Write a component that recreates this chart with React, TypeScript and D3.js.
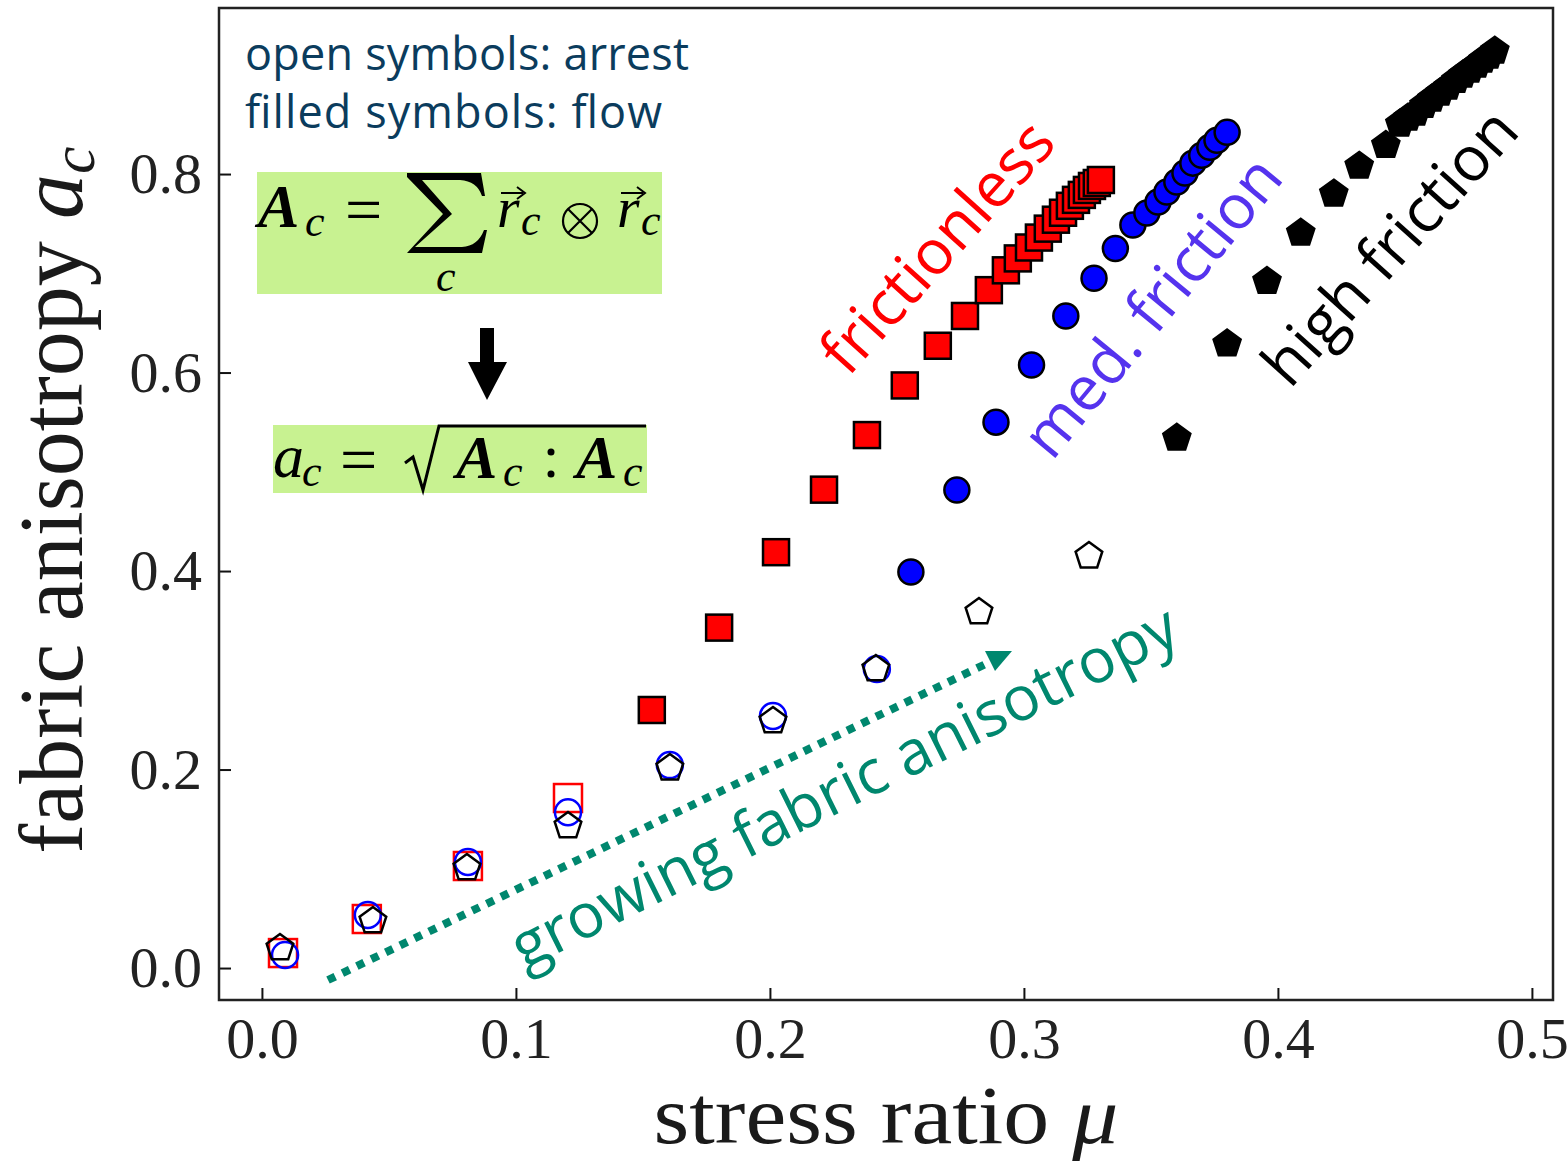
import { useEffect, useRef } from 'react';
import * as d3 from 'd3';

// arrest states (open symbols)
const muArrestFless = [0.0083, 0.0413, 0.0811, 0.1205];
const acArrestFless = [0.0151, 0.0494, 0.1028, 0.1713];
const muArrestMed = [0.0091, 0.0417, 0.0811, 0.1205, 0.1606, 0.2012, 0.2421];
const acArrestMed = [0.0131, 0.0534, 0.1068, 0.157, 0.2045, 0.2539, 0.3013];
const muArrestHigh = [0.0071, 0.0437, 0.0807, 0.1205, 0.1606, 0.2012, 0.2417, 0.2823, 0.3256];
const acArrestHigh = [0.0212, 0.0484, 0.1018, 0.1441, 0.2025, 0.2499, 0.3023, 0.3597, 0.4161];

// flowing states (filled symbols)
const muFlowFless = [0.1535, 0.18, 0.2024, 0.2213, 0.2382, 0.2531, 0.2661, 0.2768, 0.2862, 0.2929, 0.2976, 0.302,
  0.3059, 0.3094, 0.3126, 0.3154, 0.3181, 0.3205, 0.3228, 0.3248, 0.3268, 0.3287, 0.3303];
const acFlowFless = [0.26, 0.343, 0.419, 0.482, 0.537, 0.587, 0.627, 0.657, 0.683, 0.703, 0.715, 0.726,
  0.736, 0.745, 0.754, 0.761, 0.768, 0.774, 0.779, 0.784, 0.788, 0.791, 0.794];
const muFlowMed = [0.2555, 0.2736, 0.289, 0.303, 0.3165, 0.3276, 0.336, 0.3429, 0.3484, 0.3528, 0.3563, 0.3602,
  0.3634, 0.3665, 0.37, 0.3732, 0.376, 0.38];
const acFlowMed = [0.399, 0.4816, 0.55, 0.6076, 0.657, 0.695, 0.725, 0.7486, 0.7607, 0.7718, 0.7819, 0.7919,
  0.801, 0.811, 0.819, 0.827, 0.834, 0.842];
const muFlowHigh = [0.3602, 0.38, 0.3957, 0.409, 0.422, 0.432, 0.4425, 0.448, 0.4512, 0.4543, 0.4575, 0.4606,
  0.4638, 0.4669, 0.4701, 0.4728, 0.4756, 0.4783, 0.4807, 0.4831, 0.4854];
const acFlowHigh = [0.535, 0.63, 0.693, 0.7416, 0.781, 0.809, 0.83, 0.8514, 0.8574, 0.8625, 0.8703, 0.8766,
  0.8826, 0.8887, 0.8955, 0.9007, 0.9058, 0.9108, 0.9159, 0.9199, 0.925];

const xTicks = [0, 0.1, 0.2, 0.3, 0.4, 0.5];
const yTicks = [0, 0.2, 0.4, 0.6, 0.8];

const serif = '"Liberation Serif", "Times New Roman", serif';
const sans = '"Open Sans", "Noto Sans", sans-serif';

const pentagon = (r: number) => {
  const pts = d3.range(5).map(i => {
    const a = -Math.PI / 2 + (i * 2 * Math.PI) / 5;
    return [r * Math.cos(a), r * Math.sin(a)] as [number, number];
  });
  return d3.line()(pts) + 'Z';
};

const App = () => {
  const svgRef = useRef<SVGSVGElement>(null);

  useEffect(() => {
    const w = 1568;
    const h = 1163;
    const svg = d3.select(svgRef.current);
    svg.selectAll('*').remove();
    svg.attr('width', w).attr('height', h);

    const x = d3.scaleLinear().domain([-0.0169, 0.5083]).range([219, 1553]);
    const y = d3.scaleLinear().domain([-0.0322, 0.9673]).range([1000, 8]);

    // axes (inward ticks)
    const xAxis = svg.append('g')
      .attr('transform', 'translate(0,1000)')
      .call(d3.axisBottom(x).tickValues(xTicks).tickSize(-12).tickSizeOuter(0).tickPadding(17).tickFormat(d3.format('.1f')));
    const yAxis = svg.append('g')
      .attr('transform', 'translate(219,0)')
      .call(d3.axisLeft(y).tickValues(yTicks).tickSize(-12).tickSizeOuter(0).tickPadding(17).tickFormat(d3.format('.1f')));
    [xAxis, yAxis].forEach(g => {
      g.select('.domain').remove();
      g.selectAll('line').attr('stroke', '#111').attr('stroke-width', 2);
      g.selectAll('text').attr('font-family', serif).attr('font-size', 58).attr('fill', '#222');
    });

    svg.append('rect')
      .attr('x', 219).attr('y', 8).attr('width', 1553 - 219).attr('height', 1000 - 8)
      .attr('fill', 'none').attr('stroke', '#222').attr('stroke-width', 2.5);

    // axis labels
    const xl = svg.append('text')
      .attr('x', 886).attr('y', 1143)
      .attr('text-anchor', 'middle')
      .attr('font-family', serif).attr('font-size', 83).attr('fill', '#1a1a1a')
      .attr('textLength', 465).attr('lengthAdjust', 'spacingAndGlyphs');
    xl.append('tspan').text('stress ratio ');
    xl.append('tspan').attr('font-style', 'italic').text('μ');

    const yl = svg.append('text')
      .attr('transform', 'translate(82,500) rotate(-90)')
      .attr('text-anchor', 'middle')
      .attr('font-family', serif).attr('font-size', 90).attr('fill', '#1a1a1a');
    yl.append('tspan').text('fabric anisotropy ');
    yl.append('tspan').attr('font-style', 'italic').text('a');
    yl.append('tspan').attr('font-style', 'italic').attr('font-size', 62).attr('dy', 12).text('c');

    // top-left note
    const note = svg.append('g').attr('font-family', sans).attr('font-size', 45).attr('fill', '#0b3c5d');
    note.append('text').attr('x', 245).attr('y', 70).attr('textLength', 444).attr('lengthAdjust', 'spacing').text('open symbols: arrest');
    note.append('text').attr('x', 245).attr('y', 128).attr('textLength', 417).attr('lengthAdjust', 'spacing').text('filled symbols: flow');

    // formula boxes
    svg.append('rect').attr('x', 257).attr('y', 172).attr('width', 405).attr('height', 122).attr('fill', '#c8f291');
    svg.append('rect').attr('x', 273).attr('y', 425).attr('width', 374).attr('height', 68).attr('fill', '#c8f291');

    const f = svg.append('g').attr('font-family', serif).attr('fill', '#000');
    const boldA = (px: number, py: number) => {
      f.append('text').attr('x', px).attr('y', py).attr('font-size', 62).attr('font-weight', 'bold').attr('font-style', 'italic').text('A');
    };
    const sub = (px: number, py: number) => {
      f.append('text').attr('x', px).attr('y', py).attr('font-size', 44).attr('font-style', 'italic').text('c');
    };
    const vecR = (px: number, py: number) => {
      f.append('text').attr('x', px).attr('y', py).attr('font-size', 58).attr('font-style', 'italic').text('r');
      f.append('path')
        .attr('d', `M${px + 4},${py - 34} L${px + 26},${py - 34}`)
        .attr('stroke', '#000').attr('stroke-width', 2);
      f.append('path')
        .attr('d', `M${px + 20},${py - 40} L${px + 28},${py - 34} L${px + 20},${py - 28}`)
        .attr('fill', 'none').attr('stroke', '#000').attr('stroke-width', 2);
      sub(px + 24, py + 8);
    };
    boldA(258, 227);
    sub(305, 236);
    f.append('text').attr('x', 345).attr('y', 232).attr('font-size', 66).text('=');
    f.append('path')
      .attr('d', 'M407,173 L481,173 L485,196 L482,196 Q477,181 460,180 L422,180 L452,214 L415,247 L462,247 Q478,246 484,230 L487,230 L482,253 L407,253 L443,214 L407,177 Z')
      .attr('fill', '#000');
    sub(436, 291);
    vecR(497, 227);
    f.append('circle').attr('cx', 580).attr('cy', 221).attr('r', 17).attr('fill', 'none').attr('stroke', '#000').attr('stroke-width', 2.2);
    f.append('path').attr('d', 'M568,209 L592,233 M592,209 L568,233').attr('stroke', '#000').attr('stroke-width', 2.2);
    vecR(617, 227);

    // arrow between formulas
    svg.append('path')
      .attr('d', 'M480,328 L494,328 L494,362 L507,362 L487,400 L468,362 L480,362 Z')
      .attr('fill', '#000');

    // second formula
    f.append('text').attr('x', 273).attr('y', 477).attr('font-size', 62).attr('font-style', 'italic').text('a');
    sub(302, 486);
    f.append('text').attr('x', 340).attr('y', 482).attr('font-size', 66).text('=');
    f.append('path')
      .attr('d', 'M405,463 L413,457 L423,490 L439,426 L646,426')
      .attr('fill', 'none').attr('stroke', '#000').attr('stroke-width', 3);
    boldA(456, 478);
    sub(503, 486);
    f.append('circle').attr('cx', 551).attr('cy', 452).attr('r', 3.5);
    f.append('circle').attr('cx', 551).attr('cy', 474).attr('r', 3.5);
    boldA(576, 478);
    sub(623, 486);

    // growing fabric anisotropy arrow
    const teal = '#00876e';
    svg.append('line')
      .attr('x1', 328).attr('y1', 980).attr('x2', 992).attr('y2', 661)
      .attr('stroke', teal).attr('stroke-width', 8).attr('stroke-dasharray', '8 8');
    svg.append('path')
      .attr('d', 'M1012,651 L985,651 L995,671 Z')
      .attr('fill', teal);
    svg.append('text')
      .attr('transform', 'translate(524,970) rotate(-26.5)')
      .attr('font-family', sans).attr('font-size', 62).attr('fill', teal)
      .text('growing fabric anisotropy');

    // series labels
    const lab = (t: string, px: number, py: number, c: string, ang: number) => {
      svg.append('text')
        .attr('transform', `translate(${px},${py}) rotate(${ang})`)
        .attr('font-family', sans).attr('font-size', 62).attr('fill', c)
        .text(t);
    };
    lab('frictionless', 848, 378, '#ff0000', -48);
    lab('med. friction', 1052, 462, '#5533ee', -50.5);
    lab('high friction', 1290, 390, '#000', -48);

    const pts = (mu: number[], ac: number[]) => mu.map((m, i) => ({ m, a: ac[i] }));

    // open symbols
    svg.append('g').selectAll('rect').data(pts(muArrestFless, acArrestFless)).enter().append('rect')
      .attr('x', d => x(d.m) - 14).attr('y', d => y(d.a) - 14).attr('width', 28).attr('height', 28)
      .attr('fill', 'none').attr('stroke', '#ff0000').attr('stroke-width', 2.5);
    svg.append('g').selectAll('circle').data(pts(muArrestMed, acArrestMed)).enter().append('circle')
      .attr('cx', d => x(d.m)).attr('cy', d => y(d.a)).attr('r', 13)
      .attr('fill', 'none').attr('stroke', '#0000ff').attr('stroke-width', 2.5);
    svg.append('g').selectAll('path').data(pts(muArrestHigh, acArrestHigh)).enter().append('path')
      .attr('transform', d => `translate(${x(d.m)},${y(d.a) + 1})`)
      .attr('d', pentagon(14))
      .attr('fill', 'none').attr('stroke', '#000').attr('stroke-width', 2.5);

    // filled symbols
    svg.append('g').selectAll('rect').data(pts(muFlowFless, acFlowFless)).enter().append('rect')
      .attr('x', d => x(d.m) - 13).attr('y', d => y(d.a) - 13).attr('width', 26).attr('height', 26)
      .attr('fill', '#ff0000').attr('stroke', '#000').attr('stroke-width', 2.5);
    svg.append('g').selectAll('circle').data(pts(muFlowMed, acFlowMed)).enter().append('circle')
      .attr('cx', d => x(d.m)).attr('cy', d => y(d.a)).attr('r', 12.5)
      .attr('fill', '#0000ff').attr('stroke', '#000').attr('stroke-width', 2.5);
    svg.append('g').selectAll('path').data(pts(muFlowHigh, acFlowHigh)).enter().append('path')
      .attr('transform', d => `translate(${x(d.m)},${y(d.a) + 1})`)
      .attr('d', pentagon(14.5))
      .attr('fill', '#000').attr('stroke', '#000').attr('stroke-width', 2);
  }, []);

  return (
    <div style={{ position: 'absolute', left: 0, top: 0 }}>
      <svg ref={svgRef} style={{ display: 'block', background: '#fff' }}></svg>
    </div>
  );
};

export default App;
